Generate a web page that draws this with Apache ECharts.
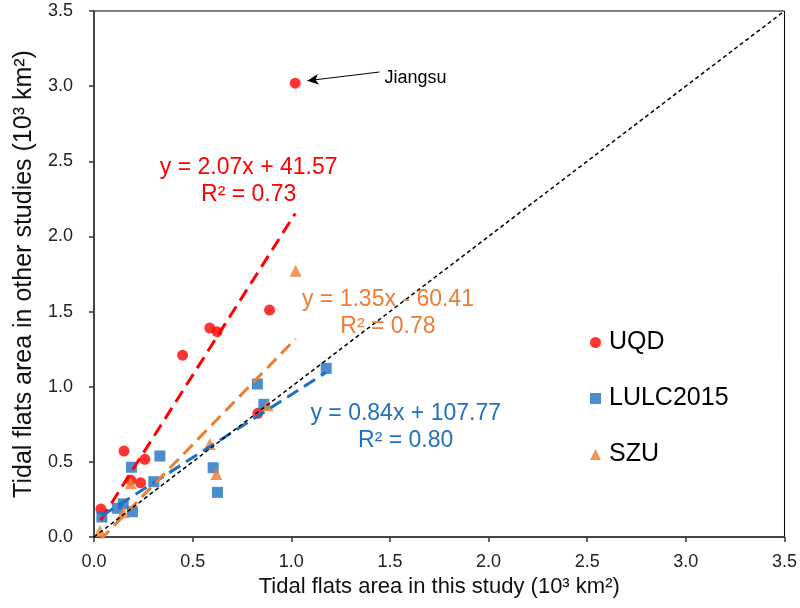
<!DOCTYPE html>
<html>
<head>
<meta charset="utf-8">
<script src="https://cdn.jsdelivr.net/npm/echarts@6/dist/echarts.min.js"></script>
<style>html,body{margin:0;padding:0;background:#fff}#c{width:800px;height:608px}</style>
</head>
<body>
<div id="c"></div>
<script>
// ---- data (10^3 km^2) ----
var uqdX = [1.02, 0.89, 0.587, 0.624, 0.449, 0.831, 0.152, 0.258, 0.186, 0.236, 0.035];
var uqdY = [3.02, 1.51, 1.39, 1.366, 1.21, 0.823, 0.572, 0.517, 0.379, 0.361, 0.186];
var lulcX = [1.177, 0.828, 0.861, 0.334, 0.19, 0.604, 0.303, 0.626, 0.118, 0.148, 0.195, 0.04];
var lulcY = [1.122, 1.018, 0.883, 0.539, 0.464, 0.461, 0.368, 0.297, 0.191, 0.22, 0.168, 0.133];
var szuX = [1.022, 0.88, 0.587, 0.62, 0.186, 0.148, 0.03];
var szuY = [1.772, 0.876, 0.619, 0.419, 0.357, 0.164, 0.04];
var seriesNames = ['UQD', 'LULC2015', 'SZU'];
// fitted trend lines: slope, intercept (km^2), x-range
var fitSlope = [2.07, 0.84, 1.35];
var fitIntercept = [41.57, 107.77, -60.41];
var fitR2 = ['0.73', '0.80', '0.78'];
var fitXRange = [[0.034, 1.02], [0.04, 1.177], [0.03, 1.022]];
var axisTicks = ['0.0', '0.5', '1.0', '1.5', '2.0', '2.5', '3.0', '3.5'];

var colors = ['#ff0000', '#1f70c1', '#ed7d31'];
var FONT = 'Liberation Sans, Arial, sans-serif';

function zip(a, b) { return a.map(function (v, i) { return [v, b[i]]; }); }
function fitLine(i) {
  var r = fitXRange[i];
  return r.map(function (x) { return [x, fitSlope[i] * x + fitIntercept[i] / 1000]; });
}
function eqText(i) {
  var b = fitIntercept[i];
  return 'y = ' + fitSlope[i].toFixed(2) + 'x ' + (b < 0 ? '- ' : '+ ') + Math.abs(b).toFixed(2) + '\nR² = ' + fitR2[i];
}

var chart = echarts.init(document.getElementById('c'));
var axisCommon = {
  type: 'value', min: 0, max: 3.5, interval: 0.5,
  axisLine: { show: true, lineStyle: { color: '#333', width: 1.5 } },
  axisTick: { show: true, length: 5, lineStyle: { color: '#333', width: 1.5 } },
  splitLine: { show: false },
  nameLocation: 'middle',
  nameTextStyle: { color: '#111', fontFamily: FONT }
};
var option = {
  animation: false,
  backgroundColor: '#fff',
  grid: { left: 94, right: 14, top: 11, bottom: 71, show: true, borderColor: '#000', borderWidth: 1 },
  xAxis: Object.assign({}, axisCommon, {
    name: 'Tidal flats area in this study (10³ km²)',
    nameGap: 30,
    nameTextStyle: { color: '#111', fontFamily: FONT, fontSize: 22 },
    axisLabel: { margin: 16, fontSize: 18, color: '#222', fontFamily: FONT,
      formatter: function (v) { return axisTicks[Math.round(v / 0.5)]; } }
  }),
  yAxis: Object.assign({}, axisCommon, {
    name: 'Tidal flats area in other studies (10³ km²)',
    nameGap: 50,
    nameTextStyle: { color: '#111', fontFamily: FONT, fontSize: 25 },
    axisLabel: { margin: 21, fontSize: 18, color: '#222', fontFamily: FONT,
      formatter: function (v) { return axisTicks[Math.round(v / 0.5)]; } }
  }),
  legend: {
    orient: 'vertical', left: 585, top: 325,
    itemWidth: 11, itemHeight: 11, itemGap: 31,
    textStyle: { fontSize: 25, color: '#000', fontFamily: FONT, lineHeight: 24, padding: [0, 0, 0, 3] },
    data: [
      { name: 'UQD', icon: 'circle' },
      { name: 'LULC2015', icon: 'rect' },
      { name: 'SZU', icon: 'triangle' }
    ]
  },
  series: [
    { name: 'UQD', type: 'scatter', symbol: 'circle', symbolSize: 11, itemStyle: { color: colors[0] }, data: zip(uqdX, uqdY),
      markLine: { silent: true, symbol: ['none', 'arrow'], symbolSize: [8, 11], label: { show: false },
        lineStyle: { color: '#000', width: 1, type: 'solid' },
        data: [[{ coord: [1.447, 3.094] }, { coord: [1.082, 3.036] }]] } },
    { name: 'LULC2015', type: 'scatter', symbol: 'rect', symbolSize: 11, itemStyle: { color: colors[1] }, data: zip(lulcX, lulcY) },
    { name: 'SZU', type: 'scatter', symbol: 'triangle', symbolSize: 12, itemStyle: { color: colors[2] }, data: zip(szuX, szuY) },
    { name: 'fitUQD', type: 'line', symbol: 'none', data: fitLine(0), lineStyle: { color: colors[0], width: 3, type: [13, 7] } },
    { name: 'fitLULC', type: 'line', symbol: 'none', data: fitLine(1), lineStyle: { color: colors[1], width: 3, type: [13, 7] } },
    { name: 'fitSZU', type: 'line', symbol: 'none', data: fitLine(2), lineStyle: { color: colors[2], width: 3, type: [13, 7] } },
    { name: '1:1', type: 'line', symbol: 'none', data: [[0, 0], [3.5, 3.5]], lineStyle: { color: '#000', width: 1.5, type: [4, 3] } }
  ]
};
chart.setOption(option);

// annotations anchored at data coordinates
var annPos = [[0.784, 2.369], [1.58, 0.729], [1.49, 1.487]];
var graphics = [];
annPos.forEach(function (p, i) {
  var px = chart.convertToPixel({ gridIndex: 0 }, p);
  graphics.push({ type: 'text', x: px[0], y: px[1], z: 100,
    style: { text: eqText(i), fill: colors[i], font: '23px ' + FONT, align: 'center', verticalAlign: 'middle', lineHeight: 27 } });
});
var jp = chart.convertToPixel({ gridIndex: 0 }, [1.472, 3.054]);
graphics.push({ type: 'text', x: jp[0], y: jp[1], z: 100,
  style: { text: 'Jiangsu', fill: '#000', font: '18px ' + FONT, align: 'left', verticalAlign: 'middle' } });
chart.setOption({ graphic: graphics });
</script>
</body>
</html>
